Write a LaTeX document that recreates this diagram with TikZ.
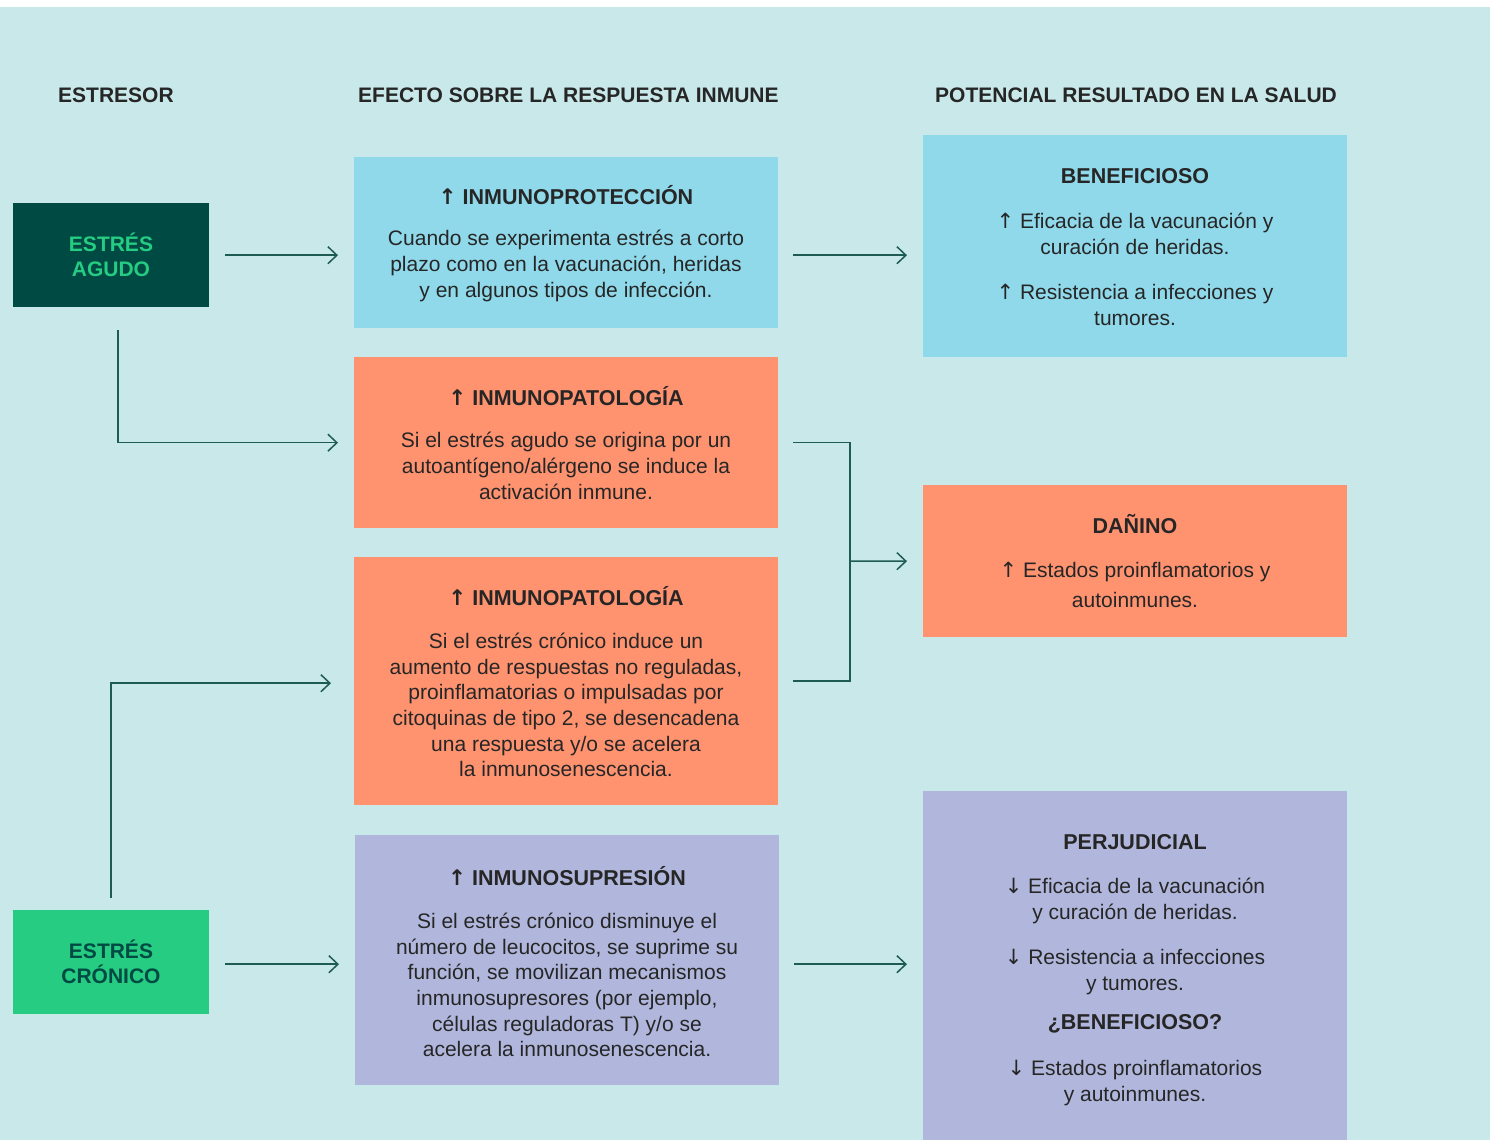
\documentclass[tikz,border=0pt]{standalone}
\usepackage{fontspec}
\setmainfont{Liberation Sans}
\newfontfamily\arrowfont{DejaVu Sans}
\usetikzlibrary{arrows.meta,calc}
\definecolor{bgc}{HTML}{C9E8E9}
\definecolor{bluec}{HTML}{8FD9EA}
\definecolor{orangec}{HTML}{FF9370}
\definecolor{purplec}{HTML}{B1B7DC}
\definecolor{darkc}{HTML}{004A44}
\definecolor{greenc}{HTML}{25CC81}
\definecolor{linec}{HTML}{1E5C52}
\definecolor{textc}{HTML}{262626}
\newcommand{\upA}{{\arrowfont\char"2191}}
\newcommand{\dnA}{{\arrowfont\char"2193}}
\tikzset{
  boxn/.style={inner sep=0pt, draw=none, anchor=north west},
  bodyt/.style={text=textc, align=center, inner sep=0pt, font=\fontsize{21}{25.7}\selectfont},
  titlet/.style={text=textc, align=center, inner sep=0pt, font=\bfseries\fontsize{21.5}{26}\selectfont},
  headt/.style={text=textc, anchor=west, inner sep=0pt, font=\bfseries\fontsize{21}{26}\selectfont},
  stresst/.style={align=center, inner sep=0pt, font=\bfseries\fontsize{21}{25}\selectfont},
  conn/.style={draw=linec, line width=1.5pt, -{Straight Barb[length=9pt,width=17pt,line width=1.5pt]}},
  plainline/.style={draw=linec, line width=1.5pt}
}
\begin{document}
\begin{tikzpicture}[x=1pt,y=-1pt]
\useasboundingbox (0,0) rectangle (1490,1140);
\fill[white] (0,0) rectangle (1490,7);
\fill[bgc] (0,7) rectangle (1490,1140);

% headers
\node[headt] (h1) at (58,95) {ESTRESOR};
\node[headt] (h2) at (358,95) {EFECTO SOBRE LA RESPUESTA INMUNE};
\node[headt] (h3) at (935,95) {POTENCIAL RESULTADO EN LA SALUD};

% stressors
\node[boxn, fill=darkc, minimum width=196pt, minimum height=104pt] (agudo) at (13,203) {};
\node[stresst, text=greenc] (agudoT) at (111,255) {ESTRÉS\\AGUDO};
\node[boxn, fill=greenc, minimum width=196pt, minimum height=104pt] (cron) at (13,910) {};
\node[stresst, text=darkc] (cronT) at (111,962) {ESTRÉS\\CRÓNICO};

% middle column
\node[boxn, fill=bluec, minimum width=424pt, minimum height=171pt] (imp) at (354,157) {};
\node[titlet] (impT) at (566,195) {\upA\ INMUNOPROTECCIÓN};
\node[bodyt] (impB) at (566,266) {Cuando se experimenta estrés a corto\\plazo como en la vacunación, heridas\\y en algunos tipos de infección.};

\node[boxn, fill=orangec, minimum width=424pt, minimum height=171pt] (pat1) at (354,357) {};
\node[titlet] (pat1T) at (566,396) {\upA\ INMUNOPATOLOGÍA};
\node[bodyt] (pat1B) at (566,466) {Si el estrés agudo se origina por un\\autoantígeno/alérgeno se induce la\\activación inmune.};

\node[boxn, fill=orangec, minimum width=424pt, minimum height=248pt] (pat2) at (354,557) {};
\node[titlet] (pat2T) at (566,596) {\upA\ INMUNOPATOLOGÍA};
\node[bodyt] (pat2B) at (566,705) {Si el estrés crónico induce un\\aumento de respuestas no reguladas,\\proinflamatorias o impulsadas por\\citoquinas de tipo 2, se desencadena\\una respuesta y/o se acelera\\la inmunosenescencia.};

\node[boxn, fill=purplec, minimum width=424pt, minimum height=250pt] (sup) at (355,835) {};
\node[titlet] (supT) at (567,876) {\upA\ INMUNOSUPRESIÓN};
\node[bodyt] (supB) at (567,985) {Si el estrés crónico disminuye el\\número de leucocitos, se suprime su\\función, se movilizan mecanismos\\inmunosupresores (por ejemplo,\\células reguladoras T) y/o se\\acelera la inmunosenescencia.};

% right column
\node[boxn, fill=bluec, minimum width=424pt, minimum height=222pt] (ben) at (923,135) {};
\node[titlet] (benT) at (1135,176) {BENEFICIOSO};
\node[bodyt] (benB1) at (1135,234) {\upA\ Eficacia de la vacunación y\\curación de heridas.};
\node[bodyt] (benB2) at (1135,305) {\upA\ Resistencia a infecciones y\\tumores.};

\node[boxn, fill=orangec, minimum width=424pt, minimum height=152pt] (dan) at (923,485) {};
\node[titlet] (danT) at (1135,524) {DAÑINO};
\node[bodyt, font=\fontsize{21}{30}\selectfont] (danB) at (1135,585) {\upA\ Estados proinflamatorios y\\autoinmunes.};

\node[boxn, fill=purplec, minimum width=424pt, minimum height=349pt] (perj) at (923,791) {};
\node[titlet] (perjT) at (1135,842) {PERJUDICIAL};
\node[bodyt] (perjB1) at (1135,901) {\dnA\ Eficacia de la vacunación\\y curación de heridas.};
\node[bodyt] (perjB2) at (1135,972) {\dnA\ Resistencia a infecciones\\y tumores.};
\node[titlet] (perjT2) at (1135,1024) {¿BENEFICIOSO?};
\node[bodyt] (perjB3) at (1135,1083) {\dnA\ Estados proinflamatorios\\y autoinmunes.};

% connectors
\draw[conn] ([xshift=16pt]agudo.east) -- ([xshift=-16pt]agudo.east -| imp.west);
\draw[conn] ([xshift=15pt]imp.east |- agudo.east) -- ([xshift=-16pt]agudo.east -| ben.west);
\draw[conn] ([xshift=7pt,yshift=-23pt]agudo.south) |- ([xshift=-16pt]pat1.west);
\draw[conn] ([yshift=12pt]cron.north) |- ([xshift=-23pt,yshift=-2pt]pat2.west);
\draw[conn] ([xshift=16pt,yshift=-2pt]cron.east) -- ([xshift=-16pt,yshift=-2pt]sup.west |- cron.east);
\draw[conn] ([xshift=15pt,yshift=-2pt]sup.east |- cron.east) -- ([xshift=-16pt,yshift=-2pt]perj.west |- cron.east);
\coordinate (junc) at (850,561);
\draw[plainline] ([xshift=15pt]pat1.east) -| (junc) |- ([xshift=15pt]pat2.east);
\draw[conn] (junc) -- ([xshift=-16pt]dan.west);
\end{tikzpicture}
\end{document}
